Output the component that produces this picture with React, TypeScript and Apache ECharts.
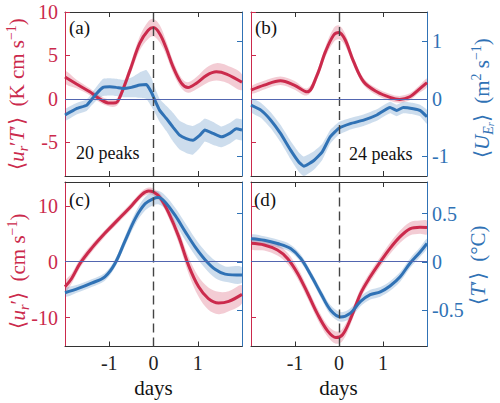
import React, { useEffect, useRef } from "react";
import * as echarts from "echarts";

// ---------- data ----------
// panel (a): red = <u_r'T'> (left axis), blue = <U_Er> (right axis)
const aRedX = [-2, -1.74, -1.44, -1.2, -0.99, -0.85, -0.76, -0.53, -0.31, -0.12, 0, 0.14, 0.29, 0.44, 0.63, 0.78, 0.97, 1.2, 1.42, 1.65, 2];
const aRedY = [2.5, 1.7, 0.8, -0.07, -0.5, -0.46, 0.2, 3.3, 6.4, 7.9, 8.2, 7.5, 5.8, 3.7, 1.8, 1.3, 1.8, 2.7, 3.1, 2.85, 1.9];
const aRedErr = [0.7, 0.5, 0.4, 0.4, 0.4, 0.4, 0.5, 0.6, 0.8, 1.0, 1.0, 1.0, 0.8, 0.7, 0.6, 0.6, 0.7, 0.9, 1.0, 1.0, 0.9];
const aBlueX = [-2, -1.74, -1.51, -1.44, -1.29, -1.14, -0.99, -0.84, -0.69, -0.5, -0.31, -0.16, -0.05, 0.03, 0.14, 0.29, 0.44, 0.59, 0.74, 0.89, 1.05, 1.16, 1.35, 1.54, 1.72, 1.87, 2];
const aBlueY = [-0.28, -0.17, -0.11, -0.05, 0.09, 0.2, 0.21, 0.2, 0.18, 0.2, 0.24, 0.25, 0.12, -0.02, -0.2, -0.34, -0.49, -0.63, -0.69, -0.72, -0.63, -0.54, -0.6, -0.66, -0.6, -0.52, -0.54];
const aBlueErr = [0.1, 0.1, 0.1, 0.1, 0.12, 0.15, 0.15, 0.15, 0.15, 0.17, 0.22, 0.25, 0.25, 0.22, 0.2, 0.22, 0.25, 0.25, 0.25, 0.25, 0.22, 0.2, 0.2, 0.18, 0.18, 0.18, 0.18];

// panel (b)
const bRedX = [-2, -1.7, -1.33, -1.02, -0.72, -0.5, -0.31, -0.12, 0, 0.14, 0.33, 0.56, 0.86, 1.16, 1.38, 1.61, 1.8, 2];
const bRedY = [1.0, 1.58, 2.08, 1.58, 0.8, 2.7, 5.4, 7.35, 7.65, 6.8, 4.3, 1.96, 0.8, 0.16, -0.07, 0.23, 1.0, 1.85];
const bRedErr = [0.4, 0.5, 0.5, 0.5, 0.4, 0.5, 0.6, 0.8, 0.8, 0.7, 0.5, 0.4, 0.4, 0.4, 0.4, 0.4, 0.4, 0.5];
const bBlueX = [-2, -1.77, -1.55, -1.33, -1.1, -0.91, -0.8, -0.57, -0.38, -0.2, 0, 0.26, 0.56, 0.86, 1.16, 1.31, 1.46, 1.69, 1.84, 2];
const bBlueY = [-0.11, -0.2, -0.37, -0.6, -0.89, -1.1, -1.17, -1.07, -0.92, -0.66, -0.51, -0.43, -0.37, -0.28, -0.15, -0.2, -0.15, -0.17, -0.2, -0.31];
const bBlueErr = [0.12, 0.13, 0.14, 0.15, 0.16, 0.17, 0.17, 0.16, 0.14, 0.12, 0.11, 0.1, 0.1, 0.1, 0.1, 0.1, 0.1, 0.1, 0.1, 0.12];

// panel (c): red = <u_r'> (left), blue = <U_Er> (right)
const cRedX = [-2, -1.85, -1.66, -1.4, -1.1, -0.8, -0.49, -0.26, -0.11, 0, 0.15, 0.34, 0.57, 0.79, 1.02, 1.24, 1.47, 1.7, 2];
const cRedY = [-4.5, -3.0, -0.3, 2.4, 5.1, 7.55, 10.1, 12.1, 12.7, 12.5, 11.5, 8.8, 4.5, -0.6, -4.5, -6.6, -7.4, -7.1, -5.85];
const cRedErr = [1.0, 0.9, 0.8, 0.7, 0.6, 0.6, 0.6, 0.6, 0.6, 0.6, 0.7, 0.9, 1.2, 1.5, 1.8, 2.0, 2.0, 1.8, 1.6];
const cBlueX = [-2, -1.7, -1.4, -1.1, -0.87, -0.64, -0.41, -0.19, 0, 0.11, 0.26, 0.49, 0.72, 0.94, 1.17, 1.4, 1.62, 2];
const cBlueY = [-0.32, -0.275, -0.22, -0.155, -0.017, 0.22, 0.45, 0.6, 0.655, 0.665, 0.62, 0.48, 0.31, 0.155, 0.02, -0.08, -0.127, -0.137];
const cBlueErr = [0.04, 0.04, 0.04, 0.04, 0.04, 0.05, 0.06, 0.07, 0.07, 0.07, 0.07, 0.08, 0.09, 0.09, 0.09, 0.09, 0.08, 0.08];

// panel (d): red = <u_r'> (left), blue = <T'> (right)
const dRedX = [-2, -1.7, -1.4, -1.17, -0.94, -0.71, -0.49, -0.26, -0.07, 0.08, 0.26, 0.49, 0.71, 0.94, 1.16, 1.39, 1.61, 1.84, 2];
const dRedY = [3.3, 3.0, 2.1, 0.6, -2.1, -5.7, -9.35, -12.4, -13.6, -13.1, -10.3, -5.7, -2.7, 0, 2.4, 4.5, 5.9, 6.2, 6.15];
const dRedErr = [1.0, 1.0, 1.0, 1.0, 1.0, 1.0, 1.0, 1.0, 1.1, 1.1, 1.0, 0.9, 0.9, 0.9, 1.0, 1.1, 1.2, 1.2, 1.2];
const dBlueX = [-2, -1.7, -1.4, -1.1, -0.87, -0.64, -0.41, -0.19, 0.04, 0.26, 0.49, 0.71, 0.94, 1.16, 1.39, 1.61, 1.84, 2];
const dBlueY = [0.24, 0.224, 0.19, 0.138, 0.035, -0.137, -0.33, -0.5, -0.57, -0.53, -0.41, -0.34, -0.31, -0.25, -0.155, -0.017, 0.1, 0.19];
const dBlueErr = [0.04, 0.04, 0.04, 0.04, 0.04, 0.04, 0.045, 0.05, 0.05, 0.05, 0.05, 0.05, 0.05, 0.05, 0.05, 0.05, 0.05, 0.05];

// ticks
const xTicks = [-1, 0, 1];
const topLeftTicks = [-5, 0, 5, 10];
const topRightTicks = [-1, 0, 1];
const botLeftTicks = [-10, 0, 10];
const botRightTicks = [-0.5, 0, 0.5];

const panelLabels = ["(a)", "(b)", "(c)", "(d)"];
const peakLabels = ["20 peaks", "24 peaks"];
const xName = "days";

// ---------- styles ----------
const RED = "#CB2A4C";
const BLUE = "#3072B5";
const RED_FILL = "rgba(203,42,76,0.24)";
const BLUE_FILL = "rgba(48,114,181,0.24)";
const SERIF = "Liberation Serif";

const grids = [
  { left: 65, top: 12, width: 177, height: 164 },
  { left: 251, top: 12, width: 176, height: 164 },
  { left: 65, top: 182, width: 177, height: 164.5 },
  { left: 251, top: 182, width: 176, height: 164.5 },
];
const leftRanges = [[-8.9, 10], [-8.9, 10], [-15.2, 14.3], [-15.2, 14.3]];
const rightRanges = [[-1.34, 1.51], [-1.34, 1.51], [-0.876, 0.826], [-0.876, 0.826]];

function buildOption() {
  const xAxis: any[] = [];
  const yAxis: any[] = [];
  grids.forEach((_, g) => {
    const bottomRow = g >= 2;
    const base = {
      type: "value",
      gridIndex: g,
      min: -2,
      max: 2,
      splitLine: { show: false },
      axisLine: { show: true, onZero: false, lineStyle: { color: "#333", width: 1 } },
      axisTick: { show: true, inside: true, length: 5, customValues: xTicks, lineStyle: { color: "#333" } },
    };
    xAxis.push({
      ...base,
      position: "bottom",
      axisLabel: {
        show: bottomRow,
        customValues: xTicks,
        color: "#222",
        fontFamily: SERIF,
        fontSize: 20,
        margin: 6,
      },
    });
    xAxis.push({ ...base, position: "top", axisLabel: { show: false } });
    const leftCol = g % 2 === 0;
    const lt = g < 2 ? topLeftTicks : botLeftTicks;
    const rt = g < 2 ? topRightTicks : botRightTicks;
    yAxis.push({
      type: "value",
      gridIndex: g,
      position: "left",
      min: leftRanges[g][0],
      max: leftRanges[g][1],
      splitLine: { show: false },
      axisLine: { show: true, onZero: false, lineStyle: { color: RED, width: 1 } },
      axisTick: { show: true, inside: true, length: 5, customValues: lt, lineStyle: { color: RED } },
      axisLabel: { show: leftCol, customValues: lt, color: RED, fontFamily: SERIF, fontSize: 20, margin: 7 },
    });
    yAxis.push({
      type: "value",
      gridIndex: g,
      position: "right",
      min: rightRanges[g][0],
      max: rightRanges[g][1],
      splitLine: { show: false },
      axisLine: { show: true, onZero: false, lineStyle: { color: BLUE, width: 1 } },
      axisTick: { show: true, inside: true, length: 5, customValues: rt, lineStyle: { color: BLUE } },
      axisLabel: { show: !leftCol, customValues: rt, color: BLUE, fontFamily: SERIF, fontSize: 20, margin: 5 },
    });
  });

  const panels = [
    { red: [aRedX, aRedY, aRedErr], blue: [aBlueX, aBlueY, aBlueErr], bs: 0.12 },
    { red: [bRedX, bRedY, bRedErr], blue: [bBlueX, bBlueY, bBlueErr], bs: 0.15 },
    { red: [cRedX, cRedY, cRedErr], blue: [cBlueX, cBlueY, cBlueErr], bs: 0.35 },
    { red: [dRedX, dRedY, dRedErr], blue: [dBlueX, dBlueY, dBlueErr], bs: 0.35 },
  ];

  const series: any[] = [];
  panels.forEach((p, g) => {
    const bands: any[] = [];
    const lines: any[] = [];
    (["red", "blue"] as const).forEach((k) => {
      const [xs, ys, es] = (p as any)[k] as number[][];
      const isRed = k === "red";
      const xi = 2 * g;
      const yi = 2 * g + (isRed ? 0 : 1);
      const sm = isRed ? 0.35 : p.bs;
      const band: any = {
        type: "custom",
        xAxisIndex: xi,
        yAxisIndex: yi,
        clip: true,
        silent: true,
        data: [[xs[0], ys[0]]],
        renderItem: (params: any, api: any) => {
          if (params.dataIndex !== 0) return null;
          const pts: number[][] = [];
          for (let i = 0; i < xs.length; i++) pts.push(api.coord([xs[i], ys[i] + es[i]]));
          for (let i = xs.length - 1; i >= 0; i--) pts.push(api.coord([xs[i], ys[i] - es[i]]));
          return {
            type: "polygon",
            shape: { points: pts, smooth: sm },
            style: { fill: isRed ? RED_FILL : BLUE_FILL, stroke: "none" },
          };
        },
      };
      if (isRed) {
        band.markLine = {
          silent: true,
          symbol: ["none", "none"],
          label: { show: false },
          animation: false,
          data: [
            { xAxis: 0, lineStyle: { color: "#444", type: [9, 5], width: 1.4 } },
            { yAxis: 0, lineStyle: { color: "#5266B0", type: "solid", width: 1 } },
          ],
        };
      }
      bands.push(band);
      lines.push({
        type: "line",
        xAxisIndex: xi,
        yAxisIndex: yi,
        smooth: sm,
        symbol: "none",
        silent: true,
        lineStyle: { color: isRed ? RED : BLUE, width: 3 },
        data: xs.map((x, i) => [x, ys[i]]),
      });
    });
    series.push(...bands, ...lines);
  });

  const richFor = (color: string) => ({
    n: { fontFamily: SERIF, fontSize: 21, fill: color, lineHeight: 26 },
    i: { fontFamily: SERIF, fontStyle: "italic", fontSize: 21, fill: color, lineHeight: 26 },
    sb: { fontFamily: SERIF, fontStyle: "italic", fontSize: 14, fill: color, verticalAlign: "bottom" },
    ssb: { fontFamily: SERIF, fontStyle: "italic", fontSize: 10, fill: color, verticalAlign: "bottom" },
    sp: { fontFamily: SERIF, fontSize: 14, fill: color, verticalAlign: "top" },
  });

  const nameText = (x: number, y: number, text: string, color: string) => ({
    type: "text",
    x,
    y,
    rotation: Math.PI / 2,
    silent: true,
    style: {
      text,
      align: "center",
      verticalAlign: "middle",
      fill: color,
      fontFamily: SERIF,
      fontSize: 21,
      rich: richFor(color),
    },
  });

  const plain = (x: number, y: number, text: string, size: number, align = "left") => ({
    type: "text",
    x,
    y,
    silent: true,
    style: { text, align, verticalAlign: "middle", fill: "#111", fontFamily: SERIF, fontSize: size },
  });

  const graphic = [
    nameText(17, 94, "{n|⟨}{i|u}{sb|r}{n|′}{i|T}{n|′⟩  (K cm s}{sp|−1}{n|)}", RED),
    nameText(18, 271, "{n|⟨}{i|u}{sb|r}{n|′⟩  (cm s}{sp|−1}{n|)}", RED),
    nameText(482, 98, "{n|⟨}{i|U}{sb|E}{ssb|r}{n|⟩  (m}{sp|2}{n| s}{sp|−1}{n|)}", BLUE),
    nameText(478, 265, "{n|⟨}{i|T}{n|′⟩  (°C)}", BLUE),
    plain(69, 27, panelLabels[0], 19),
    plain(255, 27, panelLabels[1], 19),
    plain(69, 199, panelLabels[2], 19),
    plain(254, 199, panelLabels[3], 19),
    plain(76, 153, peakLabels[0], 18),
    plain(349, 154, peakLabels[1], 18),
    plain(153.5, 388, xName, 21, "center"),
    plain(338.5, 388, xName, 21, "center"),
  ];

  return {
    animation: false,
    backgroundColor: "#fff",
    grid: grids.map((g) => ({ ...g, containLabel: false, outerBoundsMode: "none" })),
    xAxis,
    yAxis,
    series,
    graphic,
  };
}

export default function App() {
  const ref = useRef<HTMLDivElement>(null);
  useEffect(() => {
    if (!ref.current) return;
    const chart = echarts.init(ref.current, undefined, { renderer: "svg" });
    chart.setOption(buildOption() as any);
    return () => chart.dispose();
  }, []);
  return (
    <div
      ref={ref}
      style={{ position: "fixed", left: 0, top: 0, width: 500, height: 403, background: "#fff" }}
    />
  );
}
